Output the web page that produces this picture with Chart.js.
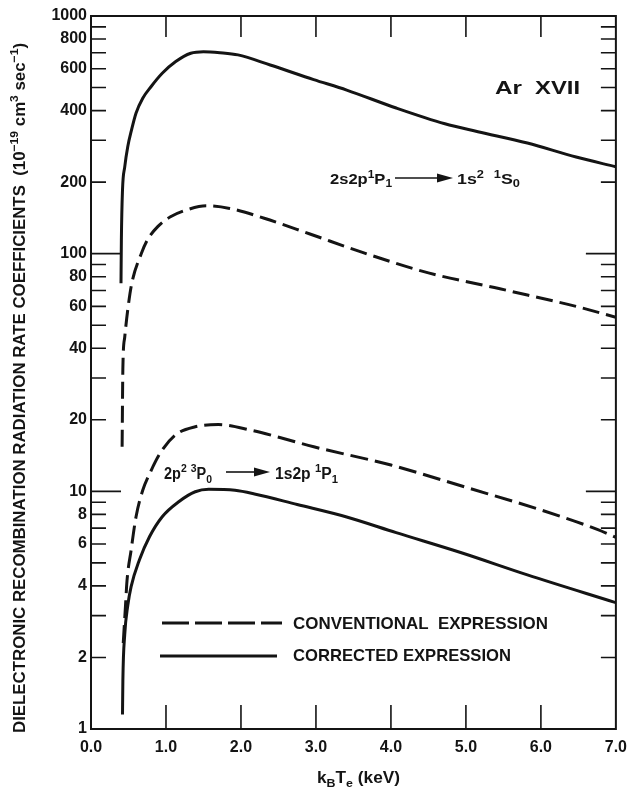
<!DOCTYPE html>
<html>
<head>
<meta charset="utf-8">
<script src="https://cdn.jsdelivr.net/npm/chart.js@4.4.0/dist/chart.umd.min.js"></script>
<style>
  html, body { margin: 0; padding: 0; background: #fff; }
  #wrap { width: 636px; height: 792px; }
</style>
</head>
<body>
<div id="wrap"><canvas id="chart_rates" width="636" height="792"></canvas></div>
<script>
var ink = '#141414';
var fam = '"Liberation Sans", Arial, sans-serif';

// kT (keV) and rate coefficient (1e-19 cm^3 sec^-1)
// 2s2p 1P1 -> 1s2 1S0, corrected expression
var upper_corr_x = [0.40, 0.405, 0.42, 0.45, 0.49, 0.54, 0.60, 0.69, 0.80, 0.95, 1.13, 1.33, 1.50, 1.72, 1.96, 2.39, 2.97, 3.41, 4.07, 4.72, 5.16, 5.82, 6.47, 7.0];
var upper_corr_y = [75, 114, 185, 232, 282, 331, 390, 451, 504, 574, 643, 697, 708, 701, 686, 622, 540, 488, 410, 352, 326, 292, 255, 232];
// 2s2p 1P1 -> 1s2 1S0, conventional expression
var upper_conv_x = [0.415, 0.425, 0.45, 0.49, 0.54, 0.67, 0.75, 0.89, 1.06, 1.28, 1.54, 1.85, 2.31, 2.92, 3.63, 4.50, 5.38, 5.82, 6.47, 7.0];
var upper_conv_y = [15.4, 33, 44.6, 58, 74, 100, 114, 130, 143, 153, 159, 155, 141, 121, 101, 83, 72, 67, 60, 54];
// 2p2 3P0 -> 1s2p 1P1, conventional expression
var lower_conv_x = [0.43, 0.46, 0.48, 0.535, 0.60, 0.69, 0.80, 0.93, 1.13, 1.39, 1.70, 2.13, 2.53, 2.97, 4.0, 5.0, 6.0, 6.76, 7.0];
var lower_conv_y = [2.3, 3.3, 4.2, 5.66, 7.8, 10.1, 12.2, 14.6, 17.3, 18.7, 19.1, 18.1, 16.8, 15.4, 12.9, 10.4, 8.35, 6.9, 6.4];
// 2p2 3P0 -> 1s2p 1P1, corrected expression
var lower_corr_x = [0.42, 0.425, 0.45, 0.49, 0.535, 0.645, 0.78, 0.95, 1.17, 1.39, 1.57, 1.92, 2.18, 2.75, 3.41, 4.07, 4.95, 5.82, 7.0];
var lower_corr_y = [1.15, 1.6, 2.5, 3.3, 3.97, 5.14, 6.44, 7.82, 9.04, 9.96, 10.2, 10.1, 9.75, 8.8, 7.8, 6.7, 5.5, 4.45, 3.4];

var x_ticks = [0, 1, 2, 3, 4, 5, 6, 7];
var y_ticks = [1, 2, 4, 6, 8, 10, 20, 40, 60, 80, 100, 200, 400, 600, 800, 1000];

function pts(xs, ys) {
  return xs.map(function (x, i) { return { x: x, y: ys[i] }; });
}

function series(label, xs, ys, dash) {
  return {
    label: label,
    data: pts(xs, ys),
    borderColor: ink,
    borderWidth: 3,
    borderDash: dash,
    pointRadius: 0,
    fill: false,
    showLine: true,
    cubicInterpolationMode: 'monotone'
  };
}

// text with superscripts / subscripts, squeezed to a given width
function draw_runs(ctx, runs, x, y, size, width, weight) {
  var w = weight || 'bold';
  var total = 0;
  runs.forEach(function (r) {
    var s = r[1] ? size * 0.72 : size;
    ctx.font = w + ' ' + s + 'px ' + fam;
    total += ctx.measureText(r[0]).width;
  });
  ctx.save();
  ctx.translate(x, y);
  if (width) ctx.scale(width / total, 1);
  var cx = 0;
  runs.forEach(function (r) {
    var s = r[1] ? size * 0.72 : size;
    var dy = r[1] === 'sup' ? -size * 0.42 : (r[1] === 'sub' ? size * 0.22 : 0);
    ctx.font = w + ' ' + s + 'px ' + fam;
    ctx.fillText(r[0], cx, dy);
    cx += ctx.measureText(r[0]).width;
  });
  ctx.restore();
}

function arrow(ctx, x0, x1, y) {
  ctx.beginPath();
  ctx.lineWidth = 1.6;
  ctx.moveTo(x0, y);
  ctx.lineTo(x1 - 12, y);
  ctx.stroke();
  ctx.beginPath();
  ctx.moveTo(x1, y);
  ctx.lineTo(x1 - 16, y - 4.5);
  ctx.lineTo(x1 - 16, y + 4.5);
  ctx.closePath();
  ctx.fill();
}

var frame_plugin = {
  id: 'frame',
  afterDatasetsDraw: function (chart) {
    var ctx = chart.ctx;
    var a = chart.chartArea;
    var xs = chart.scales.x;
    var ys = chart.scales.y;
    ctx.save();
    ctx.strokeStyle = ink;
    ctx.fillStyle = ink;
    ctx.lineWidth = 2;
    ctx.strokeRect(a.left, a.top, a.right - a.left, a.bottom - a.top);

    // inward tick marks on all four sides
    ctx.lineWidth = 1.6;
    ctx.beginPath();
    [1, 10, 100].forEach(function (d) {
      for (var m = 1; m <= 9; m++) {
        var v = d * m;
        if (v <= 1) continue;
        var py = ys.getPixelForValue(v);
        var len = m === 1 ? 30 : 15;
        ctx.moveTo(a.left, py); ctx.lineTo(a.left + len, py);
        ctx.moveTo(a.right, py); ctx.lineTo(a.right - len, py);
      }
    });
    for (var i = 1; i < 7; i++) {
      var px = xs.getPixelForValue(i);
      ctx.moveTo(px, a.bottom); ctx.lineTo(px, a.bottom - 24);
      ctx.moveTo(px, a.top); ctx.lineTo(px, a.top + 21);
    }
    ctx.stroke();

    ctx.textBaseline = 'alphabetic';
    ctx.textAlign = 'left';

    // axis titles
    draw_runs(ctx, [['k', ''], ['B', 'sub'], ['T', ''], ['e', 'sub'], [' (keV)', '']], 317, 783, 16, 83);
    ctx.save();
    ctx.translate(25, 733);
    ctx.rotate(-Math.PI / 2);
    draw_runs(ctx, [['DIELECTRONIC RECOMBINATION RADIATION RATE COEFFICIENTS  (10', ''], ['\u221219', 'sup'],
      [' cm', ''], ['3', 'sup'], [' sec', ''], ['\u22121', 'sup'], [')', '']], 0, 0, 16, 690);
    ctx.restore();

    // annotations
    draw_runs(ctx, [['Ar', '']], 495, 94, 18, 27);
    draw_runs(ctx, [['XVII', '']], 535, 94, 18, 45);

    draw_runs(ctx, [['2s2p', ''], ['1', 'sup'], ['P', ''], ['1', 'sub']], 330, 184, 15, 62);
    arrow(ctx, 395, 453, 178);
    draw_runs(ctx, [['1s', ''], ['2', 'sup'], ['  ', ''], ['1', 'sup'], ['S', ''], ['0', 'sub']], 457, 184, 15, 63);

    draw_runs(ctx, [['2p', ''], ['2', 'sup'], [' ', ''], ['3', 'sup'], ['P', ''], ['0', 'sub']], 164, 479, 16, 48);
    arrow(ctx, 226, 270, 472);
    draw_runs(ctx, [['1s2p ', ''], ['1', 'sup'], ['P', ''], ['1', 'sub']], 275, 479, 16, 63);

    // legend
    ctx.lineWidth = 3;
    ctx.setLineDash([27, 6]);
    ctx.beginPath(); ctx.moveTo(162, 623); ctx.lineTo(282, 623); ctx.stroke();
    ctx.setLineDash([]);
    ctx.beginPath(); ctx.moveTo(160, 656); ctx.lineTo(277, 656); ctx.stroke();
    draw_runs(ctx, [['CONVENTIONAL  EXPRESSION', '']], 293, 629, 17, 255);
    draw_runs(ctx, [['CORRECTED EXPRESSION', '']], 293, 661, 17, 218);
    ctx.restore();
  }
};

var ctx = document.getElementById('chart_rates').getContext('2d');
var chart = new Chart(ctx, {
  type: 'scatter',
  data: {
    datasets: [
      series('Corrected 2s2p', upper_corr_x, upper_corr_y, []),
      series('Conventional 2s2p', upper_conv_x, upper_conv_y, [17, 7]),
      series('Conventional 2p2', lower_conv_x, lower_conv_y, [18, 7]),
      series('Corrected 2p2', lower_corr_x, lower_corr_y, [])
    ]
  },
  options: {
    responsive: false,
    animation: false,
    layout: { padding: { top: 16, right: 13, left: 0, bottom: 0 } },
    plugins: { legend: { display: false }, tooltip: { enabled: false } },
    scales: {
      x: {
        type: 'linear',
        min: 0,
        max: 7,
        afterBuildTicks: function (scale) {
          scale.ticks = x_ticks.map(function (v) { return { value: v }; });
        },
        afterFit: function (scale) { scale.height = 63; },
        grid: { display: false, drawTicks: false },
        border: { display: false },
        ticks: {
          padding: 9,
          color: ink,
          font: { family: fam, size: 16, weight: 'bold' },
          callback: function (v) { return Number(v).toFixed(1); }
        }
      },
      y: {
        type: 'logarithmic',
        min: 1,
        max: 1000,
        afterBuildTicks: function (scale) {
          scale.ticks = y_ticks.map(function (v) { return { value: v }; });
        },
        afterFit: function (scale) { scale.width = 91; },
        grid: { display: false, drawTicks: false },
        border: { display: false },
        ticks: {
          autoSkip: false,
          padding: 4,
          color: ink,
          font: { family: fam, size: 16, weight: 'bold' },
          callback: function (v) { return String(v); }
        }
      }
    }
  },
  plugins: [frame_plugin]
});
</script>
</body>
</html>
